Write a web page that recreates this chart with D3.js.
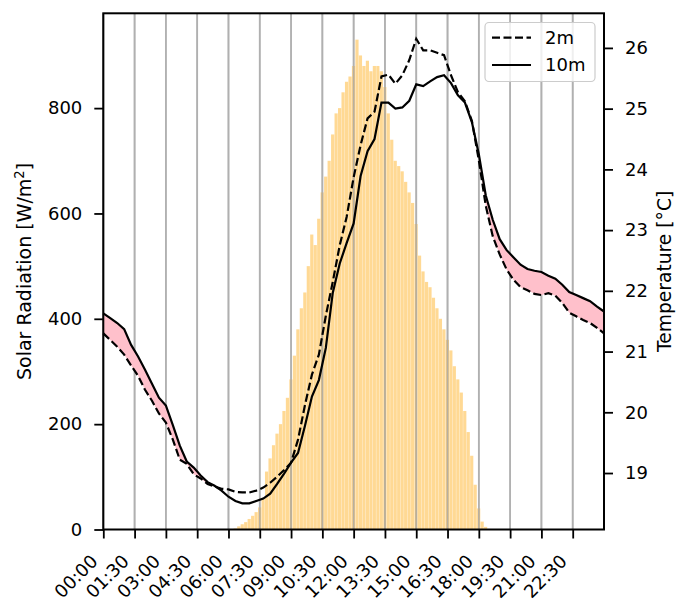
<!DOCTYPE html>
<html><head><meta charset="utf-8">
<script src="https://cdn.jsdelivr.net/npm/d3@7"></script>
<style>body{margin:0;background:#fff} svg{display:block} text{font-family:"DejaVu Sans",sans-serif}</style>
</head><body><svg id="c" width="678" height="602"></svg>
<script>
// ---- data ----
const radStartMin = 370, radStepMin = 10; // solar radiation, 10-min steps from 06:10
const radiation = [0,2,6,10,14,20,26,33,42,60,
  110,135,160,182,200,225,250,285,330,380,
  420,450,500,560,540,590,640,670,700,750,
  790,800,830,850,860,880,930,900,880,890,
  870,880,880,870,840,790,740,700,690,680,
  660,640,620,580,520,490,470,460,440,420,
  400,380,360,340,310,285,260,225,185,140,
  85,40,15,5,1];
const tempStartMin = 0, tempStepMin = 20; // temperatures, 20-min steps from 00:00
const temp2m = [21.30,21.19,21.08,20.95,20.77,20.60,20.37,20.19,19.98,19.83,
  19.55,19.22,19.15,18.98,18.91,18.82,18.78,18.74,18.73,18.69,
  18.68,18.68,18.71,18.76,18.84,18.94,19.05,19.17,19.55,20.12,
  20.62,20.95,21.59,22.15,22.75,23.22,23.87,24.40,24.84,24.95,
  25.53,25.56,25.41,25.55,25.80,26.15,25.96,25.96,25.92,25.88,
  25.55,25.27,25.12,24.80,24.15,23.40,22.90,22.60,22.35,22.18,
  22.06,22.01,21.95,21.93,21.96,21.92,21.80,21.64,21.58,21.52,
  21.47,21.39,21.30];
const temp10m = [21.63,21.55,21.47,21.37,21.11,20.92,20.70,20.47,20.24,20.11,
  19.79,19.45,19.19,19.09,18.96,18.85,18.79,18.71,18.61,18.54,
  18.50,18.50,18.54,18.58,18.66,18.82,18.99,19.17,19.33,19.78,
  20.26,20.53,21.06,21.97,22.45,22.79,23.11,23.89,24.30,24.50,
  25.10,25.10,25.00,25.02,25.13,25.40,25.37,25.45,25.52,25.55,
  25.42,25.22,25.10,24.78,24.25,23.57,23.17,22.85,22.67,22.55,
  22.43,22.36,22.33,22.31,22.25,22.20,22.10,21.98,21.93,21.88,
  21.83,21.74,21.66];
const xTickLabels = ["00:00","01:30","03:00","04:30","06:00","07:30","09:00","10:30",
  "12:00","13:30","15:00","16:30","18:00","19:30","21:00","22:30"];
const radTicks = [0,200,400,600,800];
const tempTicks = [19,20,21,22,23,24,25,26];
const seriesNames = ["2m","10m"];

// ---- layout ----
const FS = 18;
const P = {l:103.3, r:604, t:13.3, b:529.5};
const svg = d3.select("#c");
const toMin = s => { const [h,m] = s.split(":").map(Number); return h*60+m; };
const x = d3.scaleLinear().domain([0,1440]).range([P.l,P.r]);
const yR = d3.scaleLinear().domain([0,980]).range([P.b,P.t]);
const yT = d3.scaleLinear().domain([18.07,26.57]).range([P.b,P.t]);

// grid
svg.append("g").selectAll("line").data(xTickLabels).join("line")
  .attr("x1",d=>x(toMin(d))).attr("x2",d=>x(toMin(d)))
  .attr("y1",P.t).attr("y2",P.b)
  .attr("stroke","#b0b0b0").attr("stroke-width",1.7);

// bars
const radData = radiation.map((v,i)=>({m:radStartMin+i*radStepMin, v}));
const bw = x(radStepMin)-x(0);
svg.append("g").selectAll("rect").data(radData).join("rect")
  .attr("x",d=>x(d.m)-bw/2).attr("width",bw-0.3)
  .attr("y",d=>yR(d.v)).attr("height",d=>yR(0)-yR(d.v))
  .attr("fill","#FFA500").attr("fill-opacity",0.42);

// grid over bars
svg.append("g").selectAll("line").data(xTickLabels).join("line")
  .attr("x1",d=>x(toMin(d))).attr("x2",d=>x(toMin(d)))
  .attr("y1",P.t).attr("y2",P.b)
  .attr("stroke","#b0b0b0").attr("stroke-width",1.7).attr("stroke-opacity",0.8);

// temperatures
const tData = temp2m.map((v,i)=>({m:tempStartMin+i*tempStepMin, t2:v, t10:temp10m[i]}));
svg.append("path").datum(tData)
  .attr("d", d3.area().defined(d=>d.t10>=d.t2).x(d=>x(d.m)).y0(d=>yT(d.t2)).y1(d=>yT(d.t10)))
  .attr("fill","pink");
svg.append("path").datum(tData)
  .attr("d", d3.line().x(d=>x(d.m)).y(d=>yT(d.t2)))
  .attr("fill","none").attr("stroke","#000").attr("stroke-width",2.2).attr("stroke-dasharray","8,3.5");
svg.append("path").datum(tData)
  .attr("d", d3.line().x(d=>x(d.m)).y(d=>yT(d.t10)))
  .attr("fill","none").attr("stroke","#000").attr("stroke-width",2.2);

// axes
function styleAxis(g){
  g.select(".domain").remove();
  g.selectAll(".tick line").attr("stroke","#000").attr("stroke-width",1.8);
  g.selectAll(".tick text").attr("fill","#000").style("font-size",FS+"px").style("font-family","DejaVu Sans");
}
const gx = svg.append("g").attr("transform",`translate(0,${P.b})`)
  .call(d3.axisBottom(x).tickValues(xTickLabels.map(toMin)).tickFormat((d,i)=>xTickLabels[i]).tickSize(9).tickPadding(0));
styleAxis(gx);
gx.selectAll(".tick text").attr("text-anchor","end").attr("dy",null).attr("y",null)
  .attr("transform","translate(-5,33) rotate(-45)");

const gl = svg.append("g").attr("transform",`translate(${P.l},0)`)
  .call(d3.axisLeft(yR).tickValues(radTicks).tickSize(9).tickPadding(12));
styleAxis(gl);
const gr = svg.append("g").attr("transform",`translate(${P.r},0)`)
  .call(d3.axisRight(yT).tickValues(tempTicks).tickSize(9).tickPadding(12));
styleAxis(gr);

// frame
svg.append("rect").attr("x",P.l).attr("y",P.t).attr("width",P.r-P.l).attr("height",P.b-P.t)
  .attr("fill","none").attr("stroke","#000").attr("stroke-width",2);

// axis labels
const LFS = 19;
const yl = svg.append("text").attr("transform",`translate(31,${(P.t+P.b)/2}) rotate(-90)`)
  .attr("text-anchor","middle").style("font-size",LFS+"px");
yl.append("tspan").text("Solar Radiation [W/m");
yl.append("tspan").text("2").attr("dy",-7).style("font-size",(LFS*0.7)+"px");
yl.append("tspan").text("]").attr("dy",7);
svg.append("text").attr("transform",`translate(671,${(P.t+P.b)/2}) rotate(-90)`)
  .attr("text-anchor","middle").style("font-size","18.7px").text("Temperature [°C]");

// legend
const lg = svg.append("g");
lg.append("rect").attr("x",485).attr("y",22.5).attr("width",110).attr("height",59).attr("rx",4)
  .attr("fill","#fff").attr("fill-opacity",0.8).attr("stroke","#cccccc").attr("stroke-width",1.2);
seriesNames.forEach((n,i)=>{
  const yy = 37.7 + i*27.3;
  lg.append("line").attr("x1",492).attr("x2",531).attr("y1",yy).attr("y2",yy)
    .attr("stroke","#000").attr("stroke-width",2.2).attr("stroke-dasharray", i===0?"8,3.5":null);
  lg.append("text").attr("x",545).attr("y",yy).attr("dy","0.36em").style("font-size",FS+"px").text(n);
});
</script></body></html>
